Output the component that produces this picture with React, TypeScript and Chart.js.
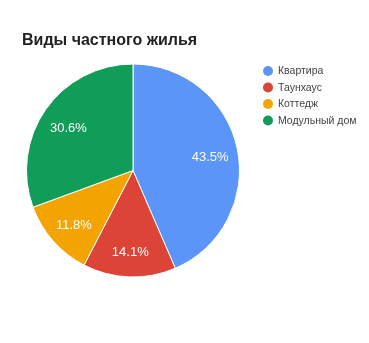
import React, { useEffect, useRef } from "react";
import { Chart, registerables } from "chart.js";

Chart.register(...registerables);

const title = "Виды частного жилья";
const categories = ["Квартира", "Таунхаус", "Коттедж", "Модульный дом"];
const values = [43.5, 14.1, 11.8, 30.6];
const colors = ["#5b95f7", "#db4437", "#f4a400", "#0f9d58"];

const FONT = "Arial, 'Liberation Sans', sans-serif";

const overlayPlugin = {
  id: "overlay",
  afterDatasetsDraw(chart: any) {
    const ctx = chart.ctx;
    const meta = chart.getDatasetMeta(0);
    const total = values.reduce((a, b) => a + b, 0);
    ctx.save();
    // slice labels
    ctx.fillStyle = "#ffffff";
    ctx.font = `13px ${FONT}`;
    ctx.textAlign = "center";
    ctx.textBaseline = "middle";
    meta.data.forEach((arc: any, i: number) => {
      const p = arc.getProps(["x", "y", "startAngle", "endAngle", "outerRadius"], true);
      const mid = (p.startAngle + p.endAngle) / 2;
      const r = p.outerRadius * 0.74;
      const pct = ((values[i] / total) * 100).toFixed(1) + "%";
      ctx.fillText(pct, p.x + Math.cos(mid) * r, p.y + Math.sin(mid) * r + 3);
    });
    // title
    ctx.fillStyle = "#222222";
    ctx.font = `bold 16px ${FONT}`;
    ctx.textAlign = "left";
    ctx.textBaseline = "alphabetic";
    ctx.fillText(title, 22, 45);
    // legend
    ctx.font = `10.5px ${FONT}`;
    categories.forEach((c, i) => {
      const y = 71 + i * 16.5;
      ctx.beginPath();
      ctx.fillStyle = colors[i];
      ctx.arc(268, y, 5, 0, Math.PI * 2);
      ctx.fill();
      ctx.fillStyle = "#444444";
      ctx.textBaseline = "middle";
      ctx.fillText(c, 278, y + 0.5);
    });
    ctx.restore();
  },
};

export default function App() {
  const ref = useRef<HTMLCanvasElement>(null);
  useEffect(() => {
    document.body.style.margin = "0";
    const chart = new Chart(ref.current!, {
      type: "pie",
      data: {
        labels: categories,
        datasets: [
          {
            data: values,
            backgroundColor: colors,
            borderColor: "#ffffff",
            borderWidth: 1,
          },
        ],
      },
      options: {
        responsive: false,
        animation: false,
        devicePixelRatio: 1,
        layout: { padding: { left: 26, right: 129, top: 63, bottom: 65 } },
        plugins: {
          legend: { display: false },
          tooltip: { enabled: false },
          title: { display: false },
        },
      },
      plugins: [overlayPlugin],
    });
    return () => chart.destroy();
  }, []);
  return (
    <div style={{ position: "absolute", left: 0, top: 0, width: 369, height: 343, background: "#fff" }}>
      <canvas ref={ref} width={369} height={343} />
    </div>
  );
}
